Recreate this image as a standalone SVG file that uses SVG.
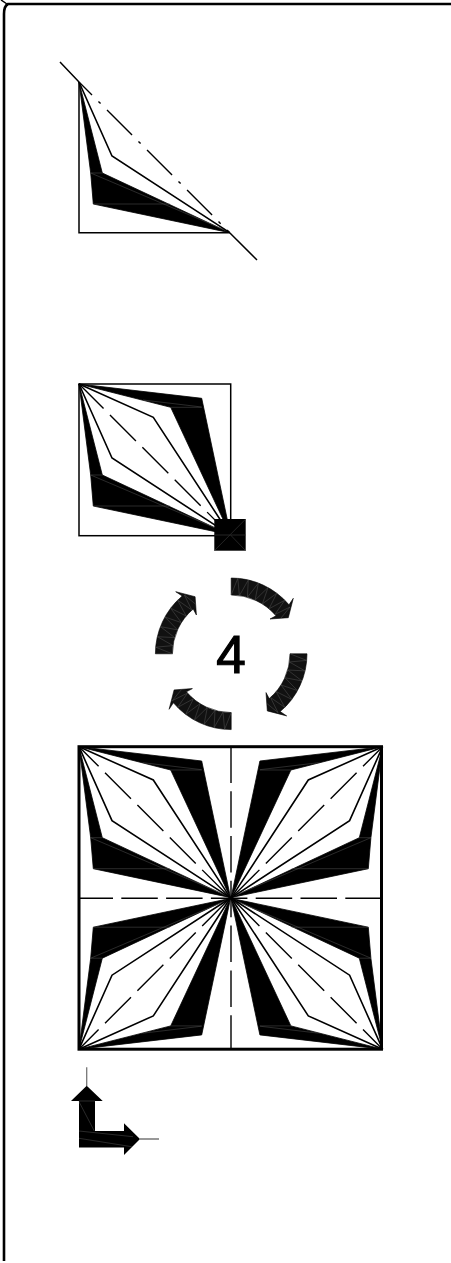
<svg xmlns="http://www.w3.org/2000/svg" xmlns:xlink="http://www.w3.org/1999/xlink" width="451" height="1263" viewBox="0 0 451 1263">
<style>
.ln{fill:none;stroke:#000;stroke-width:1.5}
.thin{fill:none;stroke:#000;stroke-width:1.6;stroke-linejoin:miter}
.fill{fill:#000;stroke:#000;stroke-width:.8;stroke-linejoin:miter}
.hair{fill:none;stroke:#555;stroke-width:.5}
.chain{fill:none;stroke:#000;stroke-width:1.4;stroke-dasharray:36.7 9.1}
.axis{fill:none;stroke:#000;stroke-width:1.4}
</style>
<defs>
<g id="half">
<polygon class="fill" points="79,82 102.3,173 229.7,232.7 93.3,204 90.7,173"/>
<path class="hair" d="M90.7,173H102.3M90.7,173L226,230.5M93.3,204H170"/>
<path class="thin" d="M79,82L112,156L229.7,232.7"/>
</g>
<g id="wings">
<use xlink:href="#half" href="#half" transform="translate(0,302)"/>
<polygon class="fill" points="79,384 201.7,398.3 230.7,535.7 170.7,407.3"/>
<path class="hair" d="M170.7,407.3H201.7M143,400L201.7,407"/>
<path class="thin" d="M79,384L153.3,417.3L230.7,535.7"/>
</g>
<g id="kite">
<use xlink:href="#wings" href="#wings"/>
<path class="chain" stroke-dashoffset="2" d="M79,384L230.7,535.7"/>
</g>
<g id="kiteB">
<use xlink:href="#wings" href="#wings"/>
<path class="chain" stroke-dashoffset="9" d="M79,384L230.7,535.7"/>
</g>
<g id="turn">
<path fill="#111" stroke="#000" stroke-width=".6" d="M231.2,578A75.8,75.8 0 0 1 289,604.8L293.3,598.3L288.3,617.7L270,619L276,615.8A58.8,58.8 0 0 0 231.2,595Z"/>
<polyline class="hair" points="231.2,595 237.8,578.3 239.4,595.6 248.3,580 247.4,597.3 258.4,583 255.1,600.1 268,587.5 262.4,603.9 276.8,593.2 269,608.8 284.8,600.2 274.9,614.5 290,607 281,618"/>
</g>
</defs>
<g id="frame">
<path fill="none" stroke="#000" stroke-width="2.6" d="M451,4H8Q4,6 4,14V1261"/>
<path fill="none" stroke="#000" stroke-width="1.5" d="M1,0L7,4"/>
</g>
<g id="step1">
<path class="ln" d="M60,62L79,82M229.7,232.7L257,260"/>
<path class="ln" d="M79,82V232.7H229.7"/>
<use xlink:href="#half" href="#half"/>
<path class="axis" stroke-dasharray="35.4 9.1 3 9.1" stroke-dashoffset="17" d="M79,82L229.7,232.7"/>
</g>
<g id="step2">
<rect x="79" y="384" width="151.7" height="151.7" fill="none" stroke="#000" stroke-width="1.5"/>
<use xlink:href="#kite" href="#kite"/>
<rect x="214.3" y="519" width="31.4" height="31.7" fill="#000"/>
<path fill="none" stroke="#333" stroke-width=".7" d="M214.3,550.7L245.7,519M230.5,535H245.7M230.5,535L245.7,550.7M214.3,535H230"/>
</g>
<g id="rotate">
<use xlink:href="#turn" href="#turn"/>
<use xlink:href="#turn" href="#turn" transform="rotate(90 231.2 653.8)"/>
<use xlink:href="#turn" href="#turn" transform="rotate(180 231.2 653.8)"/>
<use xlink:href="#turn" href="#turn" transform="rotate(270 231.2 653.8)"/>
<text x="231" y="673" text-anchor="middle" font-family="'Liberation Sans',Arial,sans-serif" font-size="53" stroke="#000" stroke-width="1.2">4</text>
</g>
<g id="result">
<rect x="79" y="746.7" width="302.5" height="302.5" fill="none" stroke="#000" stroke-width="3"/>
<path class="axis" stroke-dasharray="36.5 8.3" stroke-dashoffset="2.5" d="M231,1049.2V746.7"/>
<path class="axis" stroke-dasharray="36.5 8.3" stroke-dashoffset="2.5" d="M79,898.2H381.5"/>
<g id="k1"><use xlink:href="#kiteB" href="#kiteB" transform="translate(0,362.7)"/></g>
<g id="k2"><use xlink:href="#kiteB" href="#kiteB" transform="matrix(-1 0 0 1 461.6,362.7)"/></g>
<g id="k3"><use xlink:href="#kiteB" href="#kiteB" transform="matrix(1 0 0 -1 0,1433.2)"/></g>
<g id="k4"><use xlink:href="#kiteB" href="#kiteB" transform="matrix(-1 0 0 -1 461.6,1433.2)"/></g>
</g>
<g id="axes">
<path fill="none" stroke="#777" stroke-width="1.3" d="M86.7,1067.3V1086M140,1139H159"/>
<polygon fill="#000" points="86.7,1085.7 102.7,1101 95,1101 95,1131 124,1131 124,1123.3 140,1139 124,1155 124,1147.5 79,1147.5 79,1101 71,1101"/>
<path class="hair" d="M79,1101.7L94.3,1131M79,1131L133,1136.7M79,1138.3L131.7,1146.7M79,1101H95"/>
</g>
</svg>
